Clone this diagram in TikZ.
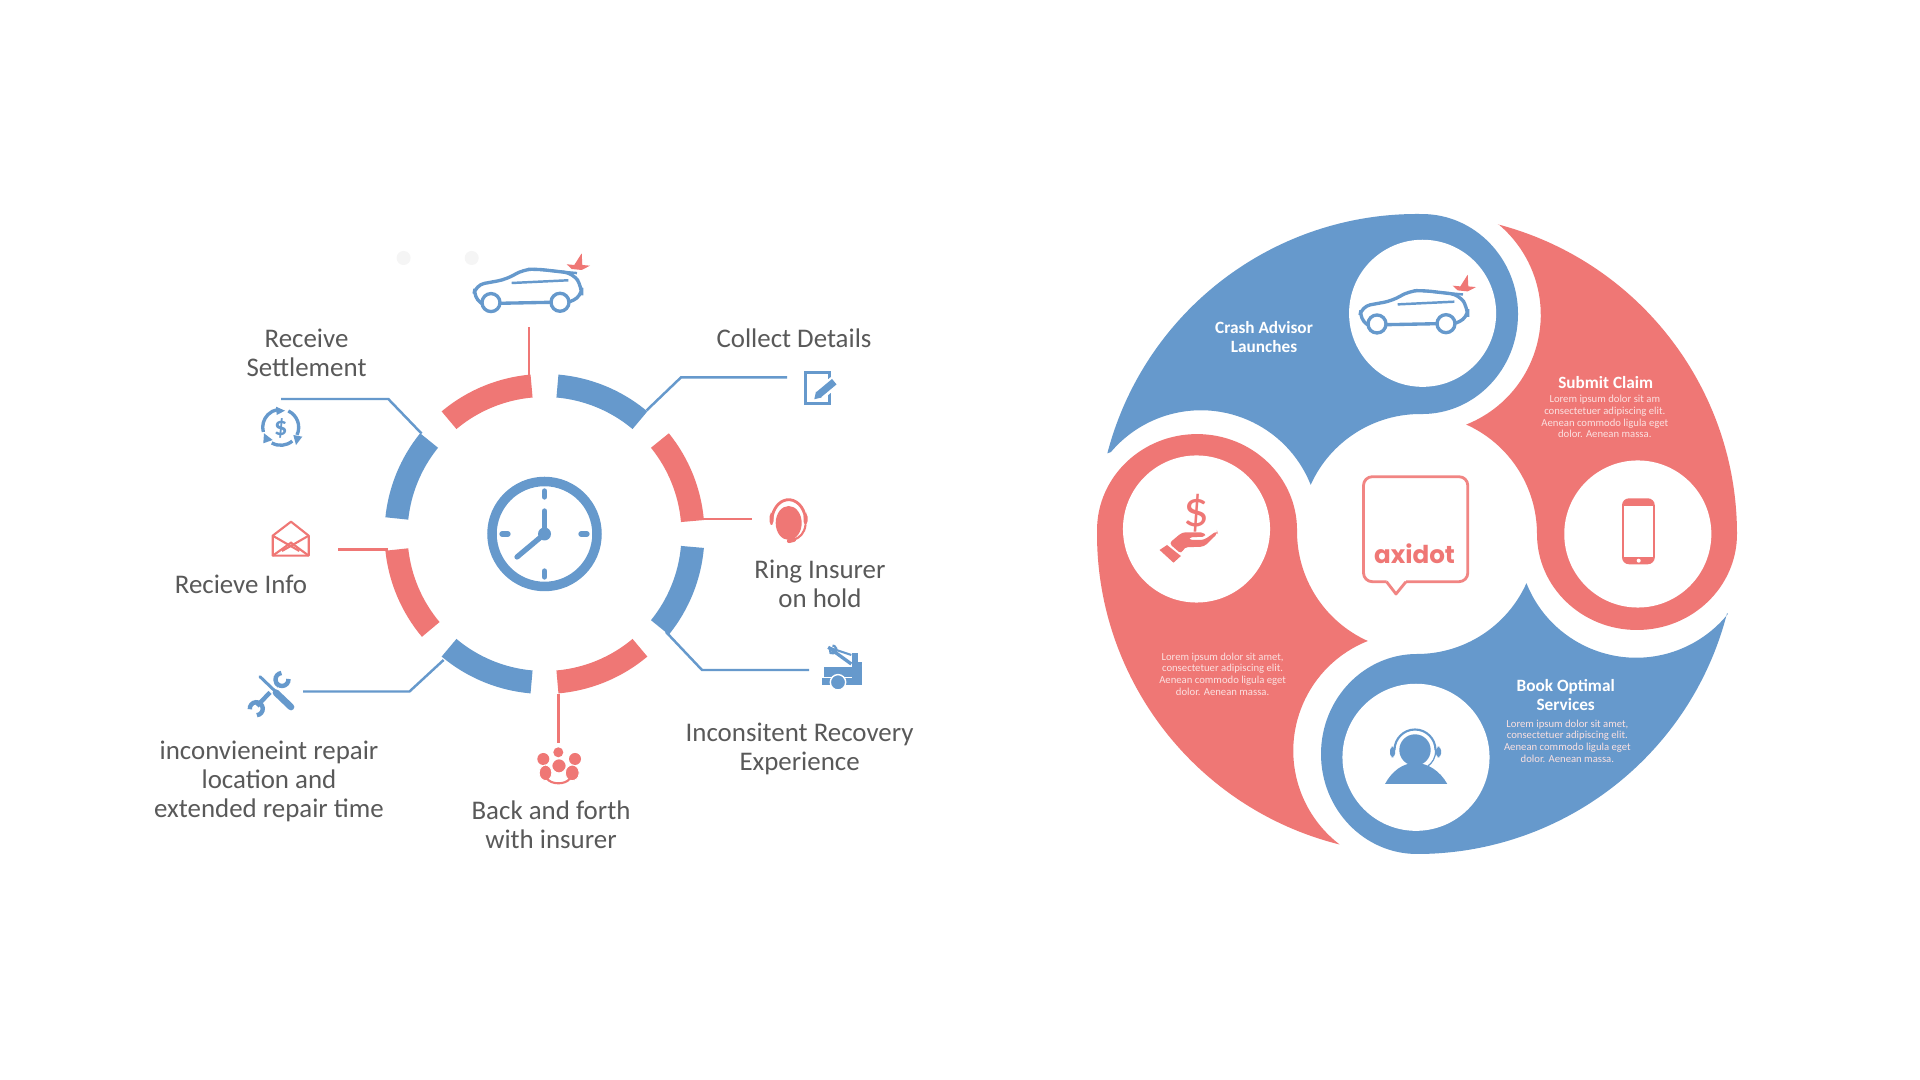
\documentclass[tikz,border=0pt]{standalone}
\usepackage{fontspec}
\setmainfont{Carlito}
\newfontfamily\logofont{Poppins}
\definecolor{axblue}{HTML}{6699CC}
\definecolor{axred}{HTML}{EF7775}
\definecolor{labelgrey}{HTML}{595959}
\tikzset{
    leaderline/.style={line width=0.7pt},
    steplabel/.style={labelgrey,align=center,inner sep=0pt,font=\fontsize{7.65}{8.25}\selectfont},
    lobehead/.style={white,align=center,inner sep=0pt,font=\fontsize{4.9}{5.4}\selectfont\bfseries},
    lobetext/.style={white!78!axred,align=center,inner sep=0pt,font=\fontsize{3.04}{3.32}\selectfont},
    lobedisc/.style={circle,fill=white,inner sep=0pt,minimum size=1.47cm},
    carshape/.pic={
        \draw[axblue,line width=0.95pt,rounded corners=2.5pt,line cap=round] (8,35)--(-0.7,29)--(1.7,16.4)--(32.7,10.7)--(49,1)--(62.7,0.4)--(99.3,4.7)--(107.7,18)--(107.7,28)--(96,33);
        \draw[axblue,line width=0.95pt] (26,34.7)--(77,33.7);
        \draw[axblue,line width=0.7pt] (37.7,14.4)--(94.3,11.7);
        \draw[axblue,line width=0.7pt] (60,0.6)--(103,4.5);
        \draw[axblue,line width=0.95pt] (17,34) circle (9);
        \draw[axblue,line width=0.95pt] (86,33.7) circle (9);
        \fill[axred] (92.7,-4.3)--(100.3,-3.6)--(107.7,-15.3)--(108.3,-3.6)--(116,-2.9)--(107.7,1.4)--(97.7,0.4)--cycle;
    }
}
\begin{document}
\begin{tikzpicture}[x=0.01cm,y=-0.01cm]
    \useasboundingbox (0,0) rectangle (1920,1080);
    \fill[white] (0,0) rectangle (1920,1080);
    %Faint dots
    \fill[black!4] (403.6,258) circle (7);
    \fill[black!4] (471.7,258) circle (7);
    %Ring
    \foreach \a/\b/\col in {95/130/axred,50/85/axblue,5/39/axred,-39/-5/axblue,-85/-50/axred,-130/-95/axblue,186/220/axred,141/174/axblue}
        \fill[\col,shift={(544.5,534)},yscale=-1] (\a:137) arc[start angle=\a,end angle=\b,radius=137] -- (\b:160) arc[start angle=\b,end angle=\a,radius=160] -- cycle;
    %Clock
    \draw[axblue,line width=2.7pt] (544.5,534) circle (52.5);
    \fill[axblue] (544.5,534) circle (6.5);
    \draw[axblue,line width=1.5pt,line cap=round] (544.5,534)--(544.5,511);
    \draw[axblue,line width=1.5pt,line cap=round] (544.5,534)--(517,557);
    \draw[axblue,line width=1.5pt,line cap=round] (544.5,491)--(544.5,497);
    \draw[axblue,line width=1.5pt,line cap=round] (544.5,571)--(544.5,577);
    \draw[axblue,line width=1.5pt,line cap=round] (502,534)--(508,534);
    \draw[axblue,line width=1.5pt,line cap=round] (581,534)--(587,534);
    %Leader points
    \coordinate (carA) at (529,375);
    \coordinate (carB) at (529,327);
    \coordinate (detailA) at (646.6,410.4);
    \coordinate (detailB) at (681,377.4);
    \coordinate (detailC) at (787,377.4);
    \coordinate (ringA) at (703,519);
    \coordinate (ringB) at (752,519);
    \coordinate (towA) at (666,632);
    \coordinate (towB) at (702,670);
    \coordinate (towC) at (809,670);
    \coordinate (backA) at (558.5,694);
    \coordinate (backB) at (558.5,743);
    \coordinate (repairA) at (443.6,660);
    \coordinate (repairB) at (409.5,691.5);
    \coordinate (repairC) at (303,691.5);
    \coordinate (infoA) at (388,549.5);
    \coordinate (infoB) at (338,549.5);
    \coordinate (settleA) at (421.6,433.6);
    \coordinate (settleB) at (388.3,399);
    \coordinate (settleC) at (281,399);
    %Leaders
    \draw[axred,leaderline] (carA)--(carB);
    \draw[axblue,leaderline] (detailA)--(detailB)--(detailC);
    \draw[axred,leaderline] (ringA)--(ringB);
    \draw[axblue,leaderline] (towA)--(towB)--(towC);
    \draw[axred,leaderline] (backA)--(backB);
    \draw[axblue,leaderline] (repairA)--(repairB)--(repairC);
    \draw[axred,leaderline] (infoA)--(infoB);
    \draw[axblue,leaderline] (settleA)--(settleB)--(settleC);
    %Labels
    \node[steplabel] (settleLabel) at (306.5,353) {Receive\\Settlement};
    \node[steplabel] (detailLabel) at (794,338.5) {Collect Details};
    \node[steplabel] (ringLabel) at (820,584) {Ring Insurer\\on hold};
    \node[steplabel] (towLabel) at (799.6,748.5) {Inconsitent Recovery\\Experience};
    \node[steplabel] (backLabel) at (551,824.5) {Back and forth\\with insurer};
    \node[steplabel] (repairLabel) at (269,781) {inconvieneint repair\\location and\\extended repair time};
    \node[steplabel] (infoLabel) at (241,584) {Recieve Info};
    %Left icons
    \pic at (474,268.6) {carshape};
    %money
    \foreach \a/\b in {195/100,65/-25,-50/-120}
        \draw[axblue,line width=0.95pt,shift={(280.7,427.3)},yscale=-1] (\a:18) arc[start angle=\a,end angle=\b,radius=18];
    \fill[axblue] (276,406.7)--(285,410.7)--(276.7,415)--cycle;
    \fill[axblue] (293.3,435)--(302.3,436.7)--(296,445)--cycle;
    \fill[axblue] (264,433.3)--(263.3,443.3)--(272.7,440)--cycle;
    \node[axblue,inner sep=0pt,font=\fontsize{7.5}{7.5}\selectfont\bfseries] (moneySign) at (280.7,428) {\$};
    %envelope
    \draw[axred,line width=0.6pt,line join=round] (272.7,535.7)--(291,521.7)--(308.7,535.7)--(308.7,555.7)--(272.7,555.7)--cycle;
    \draw[axred,line width=0.6pt] (272.7,535.7)--(299.3,551);
    \draw[axred,line width=0.6pt] (308.7,535.7)--(282,551);
    \draw[axred,line width=0.6pt] (272.7,555.7)--(291,542.7)--(308.7,555.7);
    %pencil note
    \draw[axblue,line width=0.95pt] (805.7,372.3) rectangle (829.3,403.3);
    \draw[white,line width=3.4pt] (836,380.5)--(816,397.5);
    \draw[axblue,line width=2pt] (834.3,381.7)--(818.3,395);
    \fill[axblue] (821.5,397.5)--(816,391.5)--(814.3,399.3)--cycle;
    %headset
    \fill[axred] (788.7,523) ellipse (13 and 17);
    \draw[axred,line width=0.8pt,shift={(788.7,521)},yscale=-1] (8:17) arc[start angle=8,end angle=172,x radius=17,y radius=22];
    \fill[axred,rounded corners=1pt] (769.5,513) rectangle (773.5,525);
    \fill[axred,rounded corners=1pt] (803.5,513) rectangle (807.5,525);
    \draw[axred,line width=0.6pt] (805.5,525) .. controls (804.5,533) and (800,538) .. (793,540);
    \draw[axred,line width=1.2pt,line cap=round] (789,541)--(794,539.7);
    %tow truck
    \fill[axblue] (821.6,677.7) rectangle (862,685);
    \fill[axblue] (824,667.3) rectangle (852,677);
    \fill[axblue] (852.3,653.3) rectangle (858,677.7);
    \fill[axblue] (858,662) rectangle (862,685);
    \filldraw[fill=axblue,draw=white,line width=0.4pt] (838,682.3) circle (7.7);
    \draw[axblue,line width=0.6pt] (828.3,647.3)--(851.3,655);
    \draw[axblue,line width=0.95pt] (828.3,647.3)--(851.3,664);
    \draw[axblue,line width=0.6pt] (830,650)--(830.5,653) arc[start angle=-60,end angle=-270,radius=-4];
    %people
    \fill[axred] (558.3,752.3) circle (5);
    \fill[axred] (543.3,759) circle (6);
    \fill[axred] (575,759) circle (6);
    \fill[axred,rounded corners=2pt] (552.3,759.3) rectangle (565.7,772.3);
    \filldraw[fill=axred,draw=white,line width=0.25pt,rounded corners=2pt] (539.3,765) rectangle (551.7,780.7);
    \filldraw[fill=axred,draw=white,line width=0.25pt,rounded corners=2pt] (565.5,765) rectangle (579,780.7);
    \draw[axred,line width=0.6pt] (546.7,778.3) .. controls (551,785) and (566,785) .. (570,778.3);
    %tools
    \draw[axblue,line width=1.25pt] (279,683)--(257,706);
    \draw[axblue,line width=1.25pt,shift={(282,679.5)},yscale=-1] (95:6.5) arc[start angle=95,end angle=365,radius=6.5];
    \draw[axblue,line width=1.25pt,shift={(256.3,708.7)},yscale=-1] (275:6.5) arc[start angle=275,end angle=545,radius=6.5];
    \draw[white,line width=2.4pt] (262,679)--(276,692);
    \draw[axblue,line width=0.85pt,line cap=round] (260,676.7)--(276,692);
    \draw[white,line width=3.2pt] (275,691.7)--(291,707);
    \draw[axblue,line width=1.9pt,line cap=round] (276,692.7)--(291,707);
    %Lobes
    \foreach \ang/\col/\t/\s/\e in {0/axblue/89.1/165.4/139.8,-90/axred/90/165.4/139.8,180/axblue/90/165.7/141,90/axred/89.3/166/141.5}
        \fill[\col,shift={(1417,534)},rotate=\ang,yscale=-1] (\s:320) arc[start angle=\s,end angle=\t,radius=320] arc[start angle=90,end angle=-90,x radius=96,y radius=100] arc[start angle=\t,end angle=155.8,radius=120] arc[start angle=21.6,end angle=\e,radius=118] -- cycle;
    \node[lobedisc] (carDisc) at (1422.6,313.3) {};
    \node[lobedisc] (phoneDisc) at (1637.8,534) {};
    \node[lobedisc] (personDisc) at (1416,757.3) {};
    \node[lobedisc] (handDisc) at (1196.5,529) {};
    %Lobe texts
    \node[lobehead] (crashHead) at (1264,336.7) {Crash Advisor\\Launches};
    \node[lobehead] (claimHead) at (1605.7,382.3) {Submit Claim};
    \node[lobetext] (claimText) at (1604.8,416.8) {Lorem ipsum dolor sit am\\consectetuer adipiscing elit.\\Aenean commodo ligula eget\\dolor. Aenean massa.};
    \node[lobetext] (handText) at (1222.6,674) {Lorem ipsum dolor sit amet,\\consectetuer adipiscing elit.\\Aenean commodo ligula eget\\dolor. Aenean massa.};
    \node[lobehead] (bookHead) at (1565.7,695.3) {Book Optimal\\Services};
    \node[lobetext] (bookText) at (1567.4,741) {Lorem ipsum dolor sit amet,\\consectetuer adipiscing elit.\\Aenean commodo ligula eget\\dolor. Aenean massa.};
    %Logo bubble
    \draw[axred!90!white,line width=0.8pt,rounded corners=2.5pt] (1386.5,581.7)--(1363.5,581.7)--(1363.5,476.7)--(1467.8,476.7)--(1467.8,581.7)--(1406,581.7);
    \draw[axred!90!white,line width=0.8pt,line join=round] (1386.5,581.7)--(1396,594)--(1406,581.7);
    \node[axred,inner sep=0pt,font=\fontsize{7}{7}\logofont\bfseries] (logoText) at (1414.5,554) {axidot};
    %Right icons
    \pic at (1360,290) {carshape};
    %phone
    \fill[axred,rounded corners=2pt] (1622,498.3) rectangle (1654.8,564.3);
    \fill[white] (1624,505.7) rectangle (1652.8,557.3);
    \fill[white] (1638.7,560.7) circle (2);
    %person
    \fill[axblue] (1415,750) circle (15.7);
    \draw[axblue,line width=0.6pt,shift={(1415,750)},yscale=-1] (0:20.5) arc[start angle=0,end angle=180,radius=20.5];
    \draw[axblue,line width=0.35pt] (1435.5,750) .. controls (1436,758) and (1432,763) .. (1428,766);
    \fill[axblue,rounded corners=1pt] (1390,746.7) rectangle (1395,757.3);
    \fill[axblue,rounded corners=1pt] (1436,746.7) rectangle (1441,757.3);
    \fill[axblue] (1385,784) .. controls (1392,771) and (1403,763) .. (1415,763) .. controls (1428,763) and (1440,771) .. (1447.3,784) -- cycle;
    %hand and dollar
    \node[axred,inner sep=0pt,font=\fontsize{14.5}{14.5}\selectfont] (handSign) at (1196.5,513) {\$};
    \fill[axred] (1159.6,550)--(1167,545)--(1180.9,556)--(1173.5,562.7)--cycle;
    \fill[axred,rounded corners=1pt] (1169,543.3)--(1182.2,532.3)--(1203.9,532.3)--(1206,536.7)--(1188.7,537.3)--(1188.7,540)--(1204,540)--(1217,530.7)--(1217.8,533.3)--(1204,546.7)--(1184.3,547.3)--(1181.3,554)--cycle;
\end{tikzpicture}
\end{document}
